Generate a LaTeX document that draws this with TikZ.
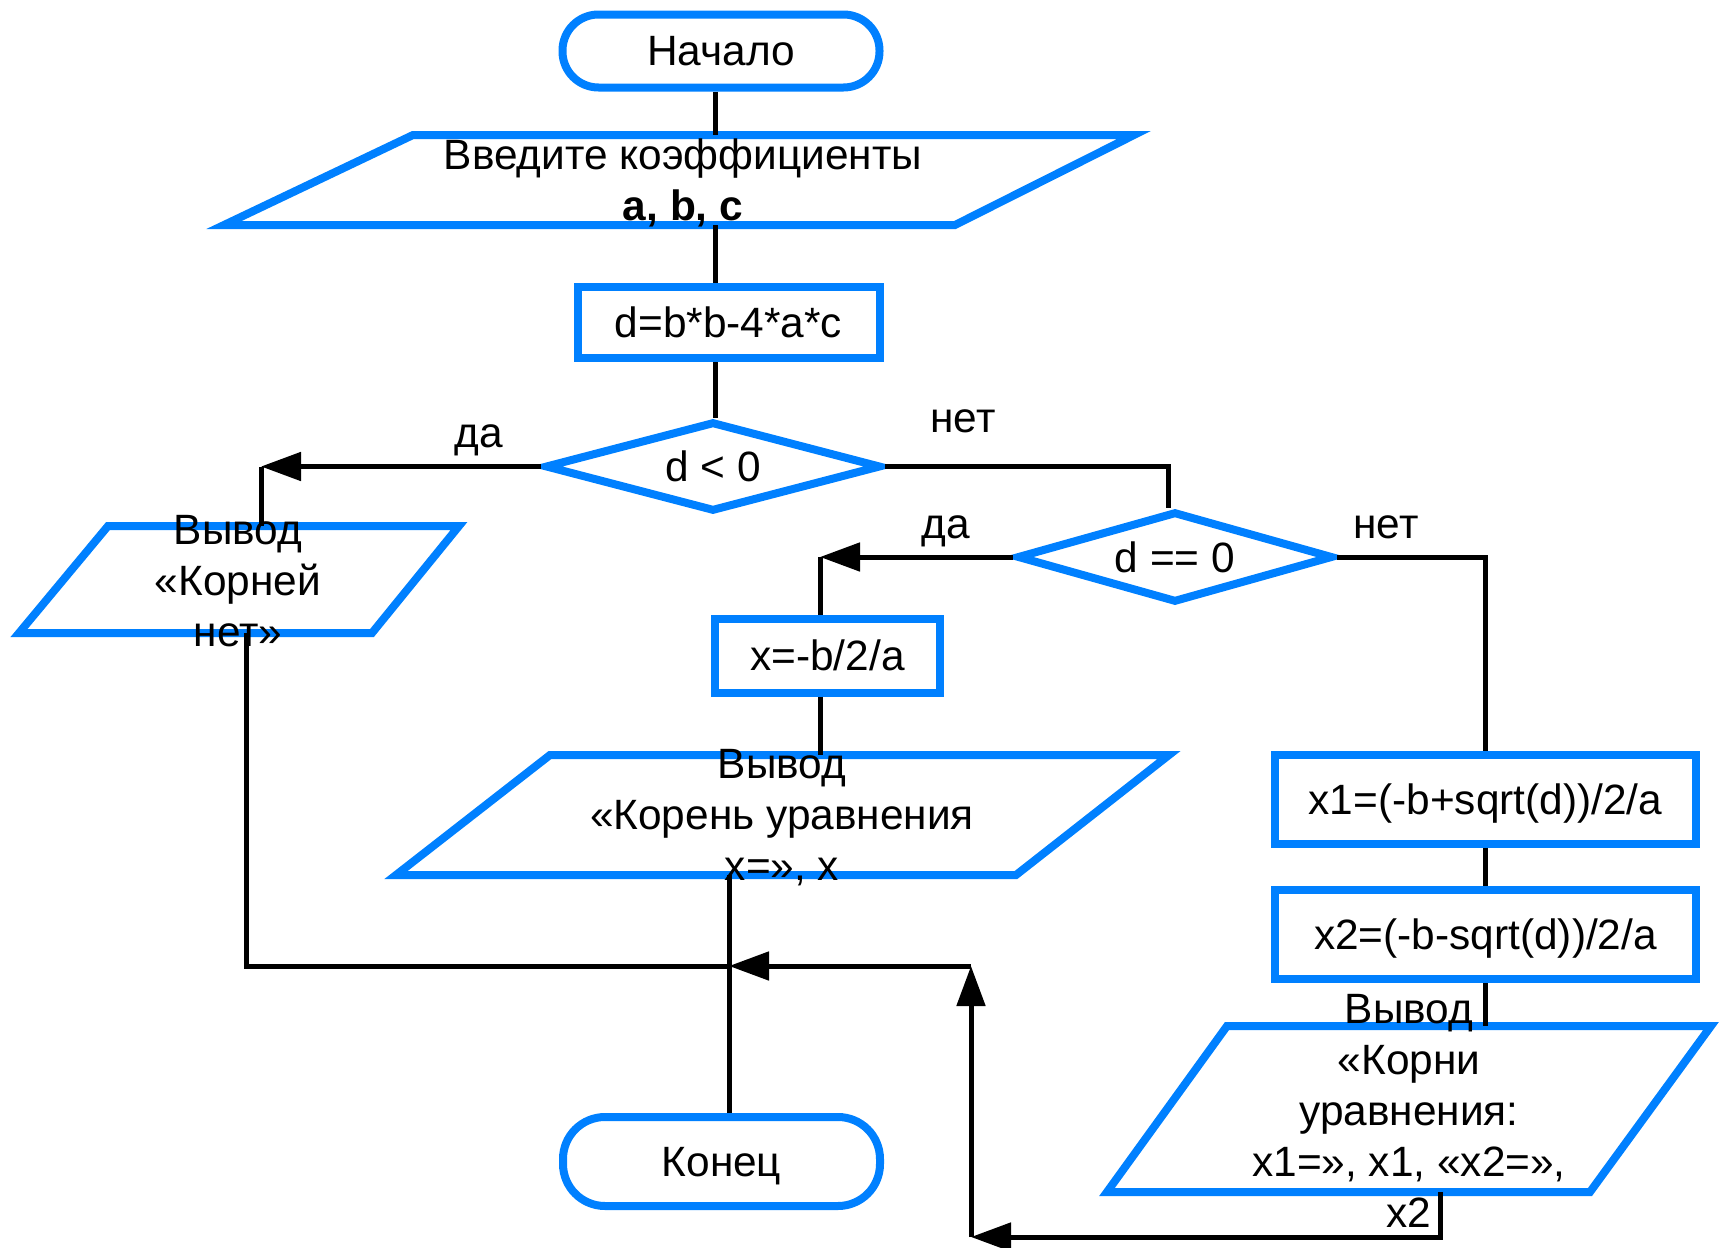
\documentclass[tikz,border=0pt]{standalone}
\usepackage{fontspec}
\setmainfont{Liberation Sans}
\usetikzlibrary{shapes.geometric,arrows.meta}
\definecolor{fblue}{RGB}{0,128,255}
\begin{document}
\begin{tikzpicture}[x=0.5pt,y=-0.5pt,
 font=\fontsize{21.2}{25.5}\selectfont,
 blk/.style={draw=fblue,line width=4pt},
 term/.style={blk,rectangle,inner sep=0pt,text depth=0pt},
 proc/.style={blk,rectangle,inner sep=0pt,text depth=0pt},
 dec/.style={blk,diamond,inner sep=0pt},
 io/.style={blk,line join=miter},
 txt/.style={align=center,inner sep=0pt},
 conn/.style={line width=2.5pt,draw=black},
 arr/.style={conn,-{Triangle[length=20pt,width=14pt]}},
]
\useasboundingbox (0,0) rectangle (1721,1248);

% shapes
\node[term,rounded corners=18pt,minimum width=158.5pt,minimum height=36.5pt] (start) at (721,51) {Начало};
\draw[io] (413,135) -- (1134,135) -- (955,225) -- (224,225) -- cycle;
\node[proc,minimum width=151pt,minimum height=35.7pt] (dbox) at (728.5,322.5) {d=b*b-4*a*c};
\node[dec,minimum width=168pt,minimum height=45pt] (dia1) at (713,466.5) {};
\draw[io] (108,526) -- (459,526) -- (372,633) -- (19,633) -- cycle;
\node[dec,minimum width=158pt,minimum height=45.5pt] (dia2) at (1175,557) {};
\node[proc,minimum width=112.5pt,minimum height=37pt] (xbox) at (827.5,655.5) {x=-b/2/a};
\draw[io] (550,755) -- (1169,755) -- (1016,875) -- (396,875) -- cycle;
\node[proc,minimum width=210.5pt,minimum height=44.5pt] (x1box) at (1485.5,799) {x1=(-b+sqrt(d))/2/a};
\node[proc,minimum width=210.5pt,minimum height=44.5pt] (x2box) at (1485.5,934.5) {x2=(-b-sqrt(d))/2/a};
\draw[io] (1227,1026) -- (1711,1026) -- (1590,1192) -- (1107,1192) -- cycle;
\node[term,rounded corners=21pt,minimum width=158.5pt,minimum height=44.5pt] (end) at (721.5,1161.5) {Конец};

% connection points
\coordinate (in1N) at (715,135);
\coordinate (in1S) at (715,225);
\coordinate (o1N) at (261,526);
\coordinate (o1S) at (246,633);
\coordinate (d2N) at (1168,557);
\coordinate (xcol) at (820,557);
\coordinate (o2N) at (820,755);
\coordinate (o2S) at (729,875);
\coordinate (junc) at (729,966);
\coordinate (up) at (971,966);
\coordinate (bot) at (971,1237);
\coordinate (o3N) at (1485.5,1026);
\coordinate (o3S) at (1440,1192);

% connectors
\draw[conn] (start.south -| in1N) -- (in1N);
\draw[conn] (in1S) -- (dbox.north -| in1S);
\draw[conn] (dbox.south -| in1S) -- (dia1.north -| in1S);
\draw[arr] (dia1.west) -- (dia1.west -| o1N);
\draw[conn] (dia1.west -| o1N) -- (o1N);
\draw[conn] (o1S) |- (junc);
\draw[conn] (dia1.east) -| (dia2.north -| d2N);
\draw[arr] (dia2.west) -- (xcol);
\draw[conn] (xcol) -- (xbox.north -| xcol);
\draw[conn] (xbox.south -| xcol) -- (o2N);
\draw[conn] (o2S) -- (end.north -| o2S);
\draw[conn] (dia2.east) -| (x1box.north);
\draw[conn] (x1box.south) -- (x2box.north);
\draw[conn] (x2box.south) -- (o3N);
\draw[arr] (o3S) |- (bot);
\draw[arr] (bot) -- (up);
\draw[arr] (up) -- (junc);

% texts
\node[txt] (in1t) at (683,183) {Введите коэффициенты\\\textbf{a, b, c}};
\node[txt] (d1t) at (dia1) {d < 0};
\node[txt] (d2t) at (dia2) {d == 0};
\node[txt] (o1t) at (238,581) {Вывод\\«Корней\\нет»};
\node[txt] (o2t) at (782,818) {Вывод\\«Корень уравнения\\x=», x};
\node[txt] (o3t) at (1409,1111) {Вывод\\«Корни\\уравнения:\\x1=», x1, «x2=»,\\x2};
\node (l1) at (479,440) {да};
\node (l2) at (963,421) {нет};
\node (l3) at (946,531) {да};
\node (l4) at (1386,527) {нет};
\end{tikzpicture}
\end{document}
